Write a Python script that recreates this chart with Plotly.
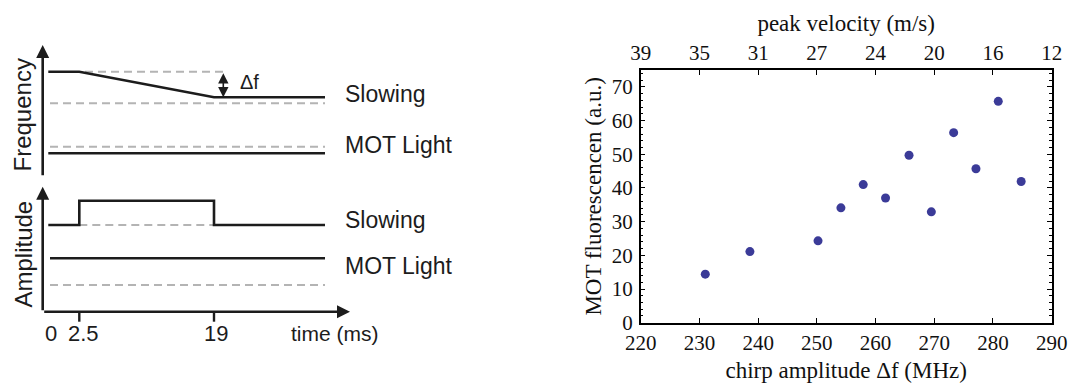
import plotly.graph_objects as go

# ---------------- measured data (right panel) ----------------
chirp_mhz = [231.0, 238.6, 250.2, 254.1, 257.9, 261.7, 265.7, 269.5, 273.3, 277.1, 280.9, 284.8]
mot_fluor = [14.4, 21.1, 24.3, 34.1, 41.0, 37.0, 49.7, 32.9, 56.4, 45.7, 65.7, 41.9]

chirp_ticks = [220, 230, 240, 250, 260, 270, 280, 290]
velocity_labels = ["39", "35", "31", "27", "24", "20", "16", "12"]

# ---------------- timing diagram (left panel, schematic units) ----------------
time_tick_pos = [0, 36.6, 171.3]          # 0, 2.5 ms, 19 ms (not to scale)
time_tick_text = ["0", "2.5", "19"]
trace_start, trace_start_ref, trace_end, time_axis_end = 5.6, 7.3, 282.3, 307.3

# frequency panel levels
freq_slow_x = [trace_start, 36.6, 171.3, trace_end]
freq_slow_y = [105, 105, 79.4, 79.4]
freq_slow_ref = 73.4
freq_start_ref_x = [42.3, 180.6]
freq_mot = 23.4
freq_mot_ref = 30
freq_axis_top = 131.7
delta_f_x = 180.6

# amplitude panel levels
amp_slow_x = [trace_start, 36.6, 36.6, 171.3, 171.3, trace_end]
amp_slow_y = [86.7, 86.7, 111, 111, 86.7, 86.7]
amp_mot = 53.4
amp_mot_ref = 26.7
amp_axis_top = 125

W, H = 1070, 383
BLACK = "#1c1c1c"
GREY = "#b4b4b4"
DOT = "#3b3b98"
SANS = "Liberation Sans, Arial, sans-serif"
SERIF = "Liberation Serif, Times New Roman, serif"


def py(p):
    """pixel row -> paper fraction"""
    return 1 - p / H


fig = go.Figure()

# ---- right panel: fluorescence vs chirp amplitude ----
fig.add_trace(go.Scatter(
    x=chirp_mhz, y=mot_fluor, mode="markers",
    marker=dict(color=DOT, size=9, line=dict(width=0)),
    xaxis="x", yaxis="y", showlegend=False, cliponaxis=False,
))
# companion trace so the top (velocity) axis is rendered
fig.add_trace(go.Scatter(
    x=chirp_mhz, y=mot_fluor, mode="markers", marker=dict(opacity=0),
    xaxis="x2", yaxis="y", showlegend=False, hoverinfo="skip",
))

# ---- left panel: timing diagram ----
def line(xs, ys, yax, color=BLACK, width=2.6, dash=None):
    fig.add_trace(go.Scatter(
        x=xs, y=ys, mode="lines", xaxis="x3", yaxis=yax, showlegend=False,
        line=dict(color=color, width=width, dash=dash), hoverinfo="skip",
    ))

DASH = "8px,5px"
# frequency
line(freq_start_ref_x, [freq_slow_y[0]] * 2, "y3", GREY, 2, DASH)
line([trace_start_ref, trace_end], [freq_slow_ref] * 2, "y3", GREY, 2, DASH)
line([trace_start_ref, trace_end], [freq_mot_ref] * 2, "y3", GREY, 2, DASH)
line(freq_slow_x, freq_slow_y, "y3")
line([trace_start, trace_end], [freq_mot] * 2, "y3")
# amplitude
line([time_tick_pos[1], time_tick_pos[2]], [amp_slow_y[0]] * 2, "y4", GREY, 2, DASH)
line([trace_start_ref, trace_end], [amp_mot_ref] * 2, "y4", GREY, 2, DASH)
line(amp_slow_x, amp_slow_y, "y4")
line([trace_start_ref, trace_end], [amp_mot] * 2, "y4")
# time ticks
for t in time_tick_pos[1:]:
    line([t, t], [0, -10], "y4", BLACK, 2.4)

annotations = []

def arrow(x, y, ax, ay, yref, width=2.6, side="end", size=1.0):
    annotations.append(dict(
        x=x, y=y, ax=ax, ay=ay, xref="x3", yref=yref, axref="x3", ayref=yref,
        showarrow=True, arrowhead=2, arrowsize=size, arrowwidth=width,
        arrowcolor=BLACK, arrowside=side, text="", standoff=0, startstandoff=0,
    ))

arrow(0, freq_axis_top, 0, 0, "y3")
arrow(0, amp_axis_top, 0, 0, "y4")
arrow(time_axis_end, 0, 0, 0, "y4")
arrow(delta_f_x, freq_slow_y[-1], delta_f_x, freq_slow_y[0], "y3", width=1.6,
      side="end+start", size=1.3)

def label(text, x, y, yref, size=22, xanchor="left", angle=0):
    annotations.append(dict(
        text=text, x=x, y=y, xref="x3", yref=yref, showarrow=False,
        xanchor=xanchor, yanchor="middle", textangle=angle,
        font=dict(family=SANS, size=size, color=BLACK),
    ))

label("Slowing", 300.3, 83.0, "y3", 23)
label("MOT Light", 300.3, 31.5, "y3", 23)
label("Δf", 195.3, 95.0, "y3", 20)
label("Slowing", 300.3, 91.5, "y4", 23)
label("MOT Light", 300.3, 45.5, "y4", 23)
label("Frequency", -20.2, 61.7, "y3", 24, "center", -90)
label("Amplitude", -20.2, 57.7, "y4", 24, "center", -90)
for t, txt, dx in zip(time_tick_pos, time_tick_text, [8.1, 4.0, 1.7]):
    label(txt, t + dx, -22.0, "y4", 22, "center")
label("time (ms)", 292.3, -22.0, "y4", 21, "center")

axis_common = dict(
    showgrid=False, zeroline=False, showline=True, linecolor="black",
    linewidth=1.5, ticks="inside", ticklen=5, tickwidth=1, tickcolor="black",
    tickfont=dict(family=SERIF, size=21, color="#111"), automargin=False,
)

fig.update_layout(
    template="none",
    width=W, height=H, margin=dict(l=0, r=0, t=0, b=0, pad=0),
    paper_bgcolor="white", plot_bgcolor="rgba(0,0,0,0)",
    showlegend=False,
    xaxis=dict(
        **axis_common, domain=[640.7 / W, 1051.7 / W], range=[220, 290],
        tickvals=chirp_ticks, anchor="y",
        title=dict(text="chirp amplitude Δf (MHz)", standoff=8,
                   font=dict(family=SERIF, size=23, color="#111")),
    ),
    xaxis2=dict(
        **axis_common, overlaying="x", side="top", anchor="y",
        range=[220, 290], tickvals=chirp_ticks, ticktext=velocity_labels,
        title=dict(text="peak velocity (m/s)", standoff=3,
                   font=dict(family=SERIF, size=23, color="#111")),
    ),
    yaxis=dict(
        **axis_common, domain=[py(322.7), py(70)], range=[0, 75],
        tickvals=[0, 10, 20, 30, 40, 50, 60, 70], mirror="ticks",
        minor=dict(dtick=2, ticks="inside", ticklen=3, tickwidth=1,
                   tickcolor="black", showgrid=False),
        ticklabelstandoff=2,
        title=dict(text="MOT fluorescencen (a.u.)", standoff=4,
                   font=dict(family=SERIF, size=23, color="#111")),
    ),
    xaxis3=dict(domain=[0, 470 / W], range=[-42.7, 427.3], visible=False,
                anchor="y4", fixedrange=True, automargin=False),
    yaxis3=dict(domain=[py(185), py(30)], range=[176.7 - 185, 176.7 - 30],
                visible=False, anchor="x3", fixedrange=True, automargin=False),
    yaxis4=dict(domain=[py(383), py(185)], range=[311.7 - 383, 311.7 - 185],
                visible=False, anchor="x3", fixedrange=True, automargin=False),
    annotations=annotations,
)

fig.write_html("out.html")
